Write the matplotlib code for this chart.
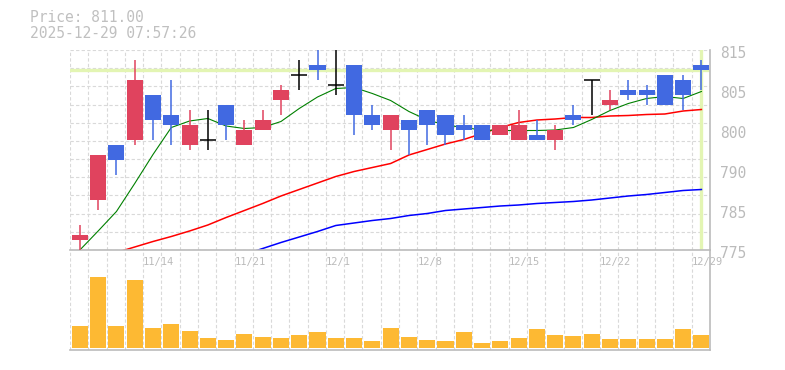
import numpy as np
import matplotlib
matplotlib.use('Agg')
import matplotlib.pyplot as plt
from matplotlib.transforms import ScaledTranslation

# daily candles, 2025-11-10 .. 2025-12-29
opens  = [777, 785, 796, 797, 806, 802, 796, 797, 804, 796, 799, 805, 810, 812, 808, 812, 802, 799,
          801, 803, 802, 800, 800, 798, 797, 798, 797, 802, 809, 804, 807, 807, 810, 809, 812]
highs  = [780, 794, 796, 813, 806, 809, 803, 803, 804, 801, 803, 808, 813, 815, 815, 812, 804, 802,
          801, 803, 802, 802, 800, 800, 803, 801, 800, 804, 809, 807, 809, 808, 810, 810, 813]
lows   = [775, 783, 790, 796, 797, 796, 795, 795, 797, 796, 799, 802, 807, 809, 806, 798, 799, 795,
          794, 796, 796, 797, 797, 798, 797, 797, 795, 800, 802, 803, 805, 804, 804, 803, 807]
closes = [778, 794, 793, 809, 801, 800, 800, 797, 800, 799, 801, 807, 810, 811, 808, 802, 800, 802,
          799, 800, 798, 799, 797, 800, 800, 797, 799, 801, 809, 805, 806, 806, 804, 806, 811]
volumes = [22, 71, 22, 68, 20, 24, 17, 10, 8, 14, 11, 10, 13, 16, 10, 10, 7, 20,
           11, 8, 7, 16, 5, 7, 10, 19, 13, 12, 14, 9, 9, 9, 9, 19, 13]

ma_short = [775.0, 778.8, 782.7, 788.3, 794.1, 799.5, 800.8, 801.3, 799.8, 799.3, 799.5, 800.7,
            803.3, 805.6, 807.3, 807.5, 806.3, 804.9, 802.7, 801.0, 800.0, 799.5, 799.0, 798.9,
            798.9, 798.9, 799.0, 799.5, 801.1, 802.9, 804.3, 805.3, 805.7, 805.3, 806.7]
ma_mid = [np.nan, np.nan, 774.5, 775.6, 776.7, 777.7, 778.8, 780.0, 781.5, 782.9, 784.3, 785.8,
          787.1, 788.4, 789.7, 790.7, 791.5, 792.3, 794.0, 795.1, 796.2, 797.1, 798.3, 799.5,
          800.5, 801.0, 801.2, 801.5, 801.5, 801.8, 801.9, 802.1, 802.2, 802.8, 803.1]
ma_long = [np.nan] * 9 + [774.1, 775.3, 776.5, 777.6, 778.7, 779.9, 780.4, 780.9, 781.3, 781.9,
                          782.3, 782.9, 783.2, 783.5, 783.8, 784.0, 784.3, 784.5, 784.7, 785.0,
                          785.4, 785.8, 786.1, 786.5, 786.9, 787.1]

date_idx = [4, 9, 14, 19, 24, 29, 34]
date_labels = ['11/14', '11/21', '12/1', '12/8', '12/15', '12/22', '12/29']
price_tick_vals = [775, 783, 791, 799, 807, 815]
price_tick_labels = ['775', '785', '790', '800', '805', '815']
last_price = 811.00
stamp = '2025-12-29 07:57:26'

C_UP = '#e0435e'
C_DOWN = '#4169e1'
C_TEXT = '#bbbbbb'
C_GRID = '#d9d9d9'
C_HL = '#e3f5b3'
MONO = 'DejaVu Sans Mono'

n = len(closes)
x = np.arange(n)
xlo, xhi = -0.54, 34.47
grid_x = np.arange(-1, n - 1) + 0.46

fig = plt.figure(figsize=(7.85, 3.70), dpi=100)
axv = fig.add_axes([70 / 785, 20 / 370, 640 / 785, 100 / 370])
axv.patch.set_visible(False)
ax = fig.add_axes([70 / 785, 120 / 370, 640 / 785, 200 / 370])

for a in (ax, axv):
    a.set_xlim(xlo, xhi)
    a.set_xticks(grid_x)
    a.tick_params(length=0, labelbottom=False, labelleft=False)
    a.grid(axis='x', color=C_GRID, linestyle=(0, (3, 2)), linewidth=0.8)
    for s in ('top', 'left'):
        a.spines[s].set_visible(False)
    for s in ('bottom', 'right'):
        a.spines[s].set_color('#bbbbbb')
        a.spines[s].set_linewidth(1.2)
    a.set_axisbelow(True)

# price panel
ax.set_ylim(775, 815)
ax.set_yticks(np.linspace(775, 815, 12))
ax.grid(axis='y', color=C_GRID, linestyle=(0, (3, 2)), linewidth=0.8)

ax.axhline(last_price, color=C_HL, linewidth=2.4, zorder=1)
ax.axvline(x[-1], color=C_HL, linewidth=2.4, zorder=1)

ax.plot(x, ma_long, color='#0000ff', linewidth=1.1, zorder=2)
ax.plot(x, ma_mid, color='#ff0000', linewidth=1.1, zorder=2)
ax.plot(x, ma_short, color='#008000', linewidth=0.8, zorder=2)

for i in range(n):
    o, h, l, c = opens[i], highs[i], lows[i], closes[i]
    if c > o:
        col = C_UP
    elif c < o:
        col = C_DOWN
    else:
        col = 'black'
    ax.vlines(x[i], l, h, color=col, linewidth=1.1, zorder=3)
    if c == o:
        ax.hlines(c, x[i] - 0.44, x[i] + 0.44, color=col, linewidth=1.1, zorder=3)
    else:
        ax.bar(x[i], abs(c - o), bottom=min(o, c), width=0.88, color=col, zorder=4)

# right-hand price labels
for v, lab in zip(price_tick_vals, price_tick_labels):
    t = ax.text(1.0, v, lab, transform=ax.get_yaxis_transform(), ha='left', va='center',
                fontsize=10.5, family=MONO, color=C_TEXT, clip_on=False)
    t.set_transform(t.get_transform() + ScaledTranslation(10 / 100, -3 / 100, fig.dpi_scale_trans))

# date labels under the price panel
for i, lab in zip(date_idx, date_labels):
    t = ax.text(x[i] - 0.54, 0, lab, transform=ax.get_xaxis_transform(), ha='left', va='center',
                fontsize=7.5, family=MONO, color=C_TEXT, clip_on=False, zorder=10)
    t.set_transform(t.get_transform() + ScaledTranslation(0, -12 / 100, fig.dpi_scale_trans))

# volume panel
axv.set_ylim(-2, 98)
axv.set_yticks([])
axv.bar(x, volumes, width=0.88, color='#fdb933', zorder=3)

fig.text(30 / 785, 1 - 17.5 / 370, f'Price: {last_price:.2f}', ha='left', va='center',
         fontsize=10.5, family=MONO, color='#c0c0c0')
fig.text(30 / 785, 1 - 33 / 370, stamp, ha='left', va='center',
         fontsize=10.5, family=MONO, color='#c0c0c0')

fig.savefig('out.png', dpi=100)
